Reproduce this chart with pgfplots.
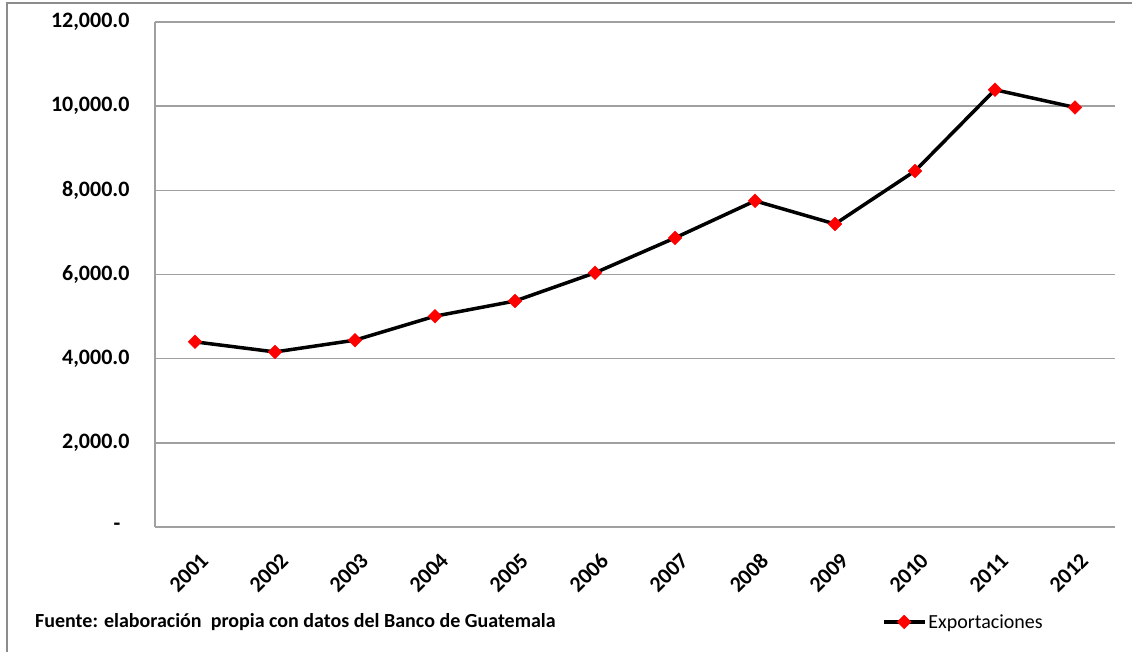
\documentclass[border=0pt]{standalone}
\usepackage{pgfplots}
\pgfplotsset{compat=1.18}
\usepackage{fontspec}
\setmainfont{Carlito}
\definecolor{gridgray}{RGB}{160,160,160}
\definecolor{framegray}{RGB}{140,140,140}
\begin{document}
\begin{tikzpicture}
\path[use as bounding box] (0pt,0pt) rectangle (1132pt,-651pt);
\draw[framegray, line width=1.5pt] (7pt,-660pt) -- (7pt,-3pt) -- (1140pt,-3pt);
\begin{axis}[
  at={(155pt,-527pt)}, anchor=south west,
  scale only axis, width=960pt, height=505pt,
  xmin=-0.5, xmax=11.5, ymin=0, ymax=12000,
  scaled y ticks=false,
  axis lines=left, axis line style={-, gridgray, line width=1.5pt},
  ymajorgrids, grid style={gridgray, line width=1.5pt},
  major tick length=0pt,
  xtick={0,...,11},
  xticklabels={2001,2002,2003,2004,2005,2006,2007,2008,2009,2010,2011,2012},
  ytick={0,2000,4000,6000,8000,10000,12000},
  yticklabels={{-\hspace*{9pt}},{2,000.0},{4,000.0},{6,000.0},{8,000.0},{10,000.0},{12,000.0}},
  yticklabel style={font=\fontsize{22}{26}\selectfont\bfseries, anchor=east, xshift=-22pt},
  xticklabel style={font=\fontsize{22}{26}\selectfont\bfseries, rotate=45, anchor=east, xshift=-11pt, yshift=-28pt},
  clip=false,
  legend style={draw=none, fill=none, at={(rel axis cs:0.757,-0.188)}, anchor=west, inner sep=0pt,
    font=\fontsize{20}{24}\selectfont, nodes={inner sep=2pt}},
  legend image code/.code={\draw[mark repeat=2, mark phase=2, #1] plot coordinates {(0pt,0pt) (20.5pt,0pt) (41pt,0pt)};},
]
\addplot[black, line width=3.5pt, mark=square*, mark size=4.8pt,
  mark options={rotate=45, fill=red, draw=red, line width=0.5pt}]
  coordinates {(0,4400) (1,4160) (2,4440) (3,5010) (4,5370) (5,6040) (6,6870) (7,7750) (8,7200) (9,8460) (10,10390) (11,9970)};
\addlegendentry{Exportaciones}
\end{axis}
\node[anchor=west, inner sep=0pt, font=\fontsize{20}{24}\selectfont\bfseries] at (35pt,-622pt) {Fuente: elaboración\ \ propia con datos del Banco de Guatemala};
\end{tikzpicture}
\end{document}
